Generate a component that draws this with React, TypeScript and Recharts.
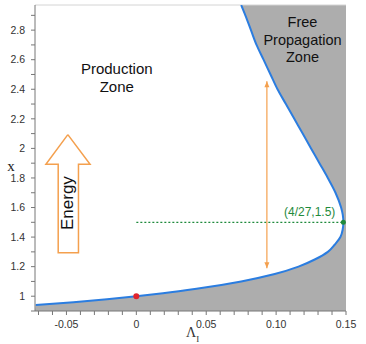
import React from 'react';
import { ComposedChart, Area, Line, XAxis, YAxis, ReferenceLine, ReferenceDot } from 'recharts';

// boundary curve: x (vertical) vs Lambda_I (horizontal)
const curveX = [0.94, 0.96, 0.98, 1.0, 1.02, 1.05, 1.1, 1.15, 1.2, 1.25, 1.3, 1.35, 1.4, 1.45, 1.5, 1.55, 1.6, 1.7, 1.8, 1.9, 2.0, 2.1, 2.2, 2.3, 2.4, 2.5, 2.6, 2.7, 2.8, 2.9, 2.97];
const curveLambda = [-0.072, -0.045, -0.021, 0, 0.019, 0.043, 0.075, 0.099, 0.116, 0.128, 0.137, 0.142, 0.146, 0.1476, 0.1481, 0.1477, 0.1465, 0.1425, 0.137, 0.131, 0.125, 0.119, 0.113, 0.107, 0.101, 0.096, 0.091, 0.086, 0.082, 0.078, 0.075];

// corner of the shaded region below the curve's left end
const fillCorner = { lam: -0.0725, x: 0.9 };

// "Energy" arrow outline and the orange range arrow
const energyLam = [-0.049, -0.0331, -0.0414, -0.0414, -0.0559, -0.0559, -0.0647, -0.049];
const energyX = [2.093, 1.892, 1.892, 1.294, 1.294, 1.892, 1.892, 2.093];
const rangeLam = 0.0934;
const rangeX = [1.19, 2.455];

const lambdaTicks = [-0.07, -0.06, -0.05, -0.04, -0.03, -0.02, -0.01, 0, 0.01, 0.02, 0.03, 0.04, 0.05, 0.06, 0.07, 0.08, 0.09, 0.1, 0.11, 0.12, 0.13, 0.14, 0.15];
const lambdaMajor = [-0.05, 0, 0.05, 0.1, 0.15];
const lambdaLabels = ['-0.05', '0', '0.05', '0.10', '0.15'];
const xTicks = [0.9, 1.0, 1.1, 1.2, 1.3, 1.4, 1.5, 1.6, 1.7, 1.8, 1.9, 2.0, 2.1, 2.2, 2.3, 2.4, 2.5, 2.6, 2.7, 2.8, 2.9];
const xMajor = [1, 1.2, 1.4, 1.6, 1.8, 2, 2.2, 2.4, 2.6, 2.8];
const xLabels = ['1', '1.2', '1.4', '1.6', '1.8', '2', '2.2', '2.4', '2.6', '2.8'];

const curve = curveX.map((x, i) => ({ x, lam: curveLambda[i] }));
const fillData = [fillCorner, ...curve];
const energyArrow = energyX.map((x, i) => ({ x, lam: energyLam[i] }));
const rangeLine = rangeX.map((x) => ({ x, lam: rangeLam }));

const pick = (v: number, vals: number[], labels: string[]) => {
  const i = vals.findIndex((m) => Math.abs(m - v) < 1e-6);
  return i >= 0 ? labels[i] : '';
};

const ORANGE = '#f4a04e';
const GREEN = '#1f8a3c';
const textFont = '"Liberation Sans", Arial, sans-serif';

const LambdaLabel = (props: any) => {
  const vb = props.viewBox || { x: 35, y: 310 };
  return (
    <text x={vb.x + 151} y={vb.y + 26} fontFamily="'Liberation Serif', serif" fontSize={14} fill="#333">
      Λ<tspan dy={5} fontSize={9}>I</tspan>
    </text>
  );
};

const XLabel = (props: any) => {
  const vb = props.viewBox || { x: 5, y: 5 };
  return (
    <text x={vb.x + 6} y={vb.y + 166} fontFamily="'Liberation Serif', serif" fontSize={15} fill="#222" textAnchor="middle">
      x
    </text>
  );
};

const Note = ({ cx, cy, lines, size = 15, color = '#111', rotate = 0 }: any) => (
  <text
    x={cx}
    y={cy}
    textAnchor="middle"
    fontFamily={textFont}
    fontSize={size}
    fill={color}
    transform={rotate ? `rotate(${rotate} ${cx} ${cy})` : undefined}
  >
    {lines.map((l: string, i: number) => (
      <tspan key={i} x={cx} dy={i === 0 ? `${0.35 - (lines.length - 1) * 0.6}em` : '1.2em'}>
        {l}
      </tspan>
    ))}
  </text>
);

const Head = ({ cx, cy, up }: any) => {
  const d = up ? 6 : -6;
  return <polygon points={`${cx},${cy} ${cx - 2.5},${cy + d} ${cx + 2.5},${cy + d}`} fill={ORANGE} />;
};

const App: React.FC = () => (
  <div style={{ position: 'absolute', left: 0, top: 0, width: 366, height: 344, background: '#fff' }}>
    <ComposedChart layout="vertical" width={366} height={344} margin={{ top: 5, right: 20, left: 5, bottom: 3 }}>
      <XAxis
        type="number"
        domain={[-0.0725, 0.15]}
        allowDataOverflow
        ticks={lambdaTicks}
        interval={0}
        tickFormatter={(v: number) => pick(v, lambdaMajor, lambdaLabels)}
        tickSize={4}
        tickMargin={6}
        height={30}
        stroke="#777"
        tick={{ fontSize: 10.5, fill: '#333', fontFamily: textFont }}
        label={<LambdaLabel />}
      />
      <YAxis
        type="number"
        dataKey="x"
        reversed
        domain={[0.9, 2.97]}
        allowDataOverflow
        ticks={xTicks}
        interval={0}
        tickFormatter={(v: number) => pick(v, xMajor, xLabels)}
        tickSize={4}
        tickMargin={6}
        width={30}
        stroke="#777"
        tick={{ fontSize: 10.5, fill: '#333', fontFamily: textFont }}
        label={<XLabel />}
      />
      <ReferenceLine y={2.97} stroke="#d4d4d4" />
      <Area data={fillData} dataKey="lam" type="linear" baseValue="dataMax" fill="#adadad" fillOpacity={1} stroke="none" isAnimationActive={false} />
      <Line data={curve} dataKey="lam" type="monotone" stroke="#2b7de0" strokeWidth={2} dot={false} isAnimationActive={false} />
      <ReferenceLine
        segment={[{ x: 0, y: 1.5 }, { x: 0.1481, y: 1.5 }]}
        stroke={GREEN}
        strokeWidth={1.2}
        strokeDasharray="2 2"
      />
      <Line data={energyArrow} dataKey="lam" type="linear" stroke={ORANGE} strokeWidth={1.5} dot={false} isAnimationActive={false} />
      <Line data={rangeLine} dataKey="lam" type="linear" stroke={ORANGE} strokeWidth={1.2} dot={false} isAnimationActive={false} />
      <ReferenceDot x={rangeLam} y={rangeX[1]} shape={(p: any) => <Head {...p} up />} />
      <ReferenceDot x={rangeLam} y={rangeX[0]} shape={(p: any) => <Head {...p} up={false} />} />
      <ReferenceDot x={0} y={1} r={3} fill="#e0232b" stroke="none" />
      <ReferenceDot x={0.1481} y={1.5} r={2.5} fill={GREEN} stroke="none" />
      <ReferenceDot x={0.124} y={1.57} shape={(p: any) => <Note {...p} lines={['(4/27,1.5)']} size={12} color={GREEN} />} />
      <ReferenceDot x={-0.014} y={2.475} shape={(p: any) => <Note {...p} lines={['Production', 'Zone']} size={15} />} />
      <ReferenceDot x={0.1189} y={2.735} shape={(p: any) => <Note {...p} lines={['Free', 'Propagation', 'Zone']} size={14.5} />} />
      <ReferenceDot x={-0.0497} y={1.63} shape={(p: any) => <Note {...p} lines={['Energy']} size={17} rotate={-90} />} />
    </ComposedChart>
  </div>
);

export default App;
